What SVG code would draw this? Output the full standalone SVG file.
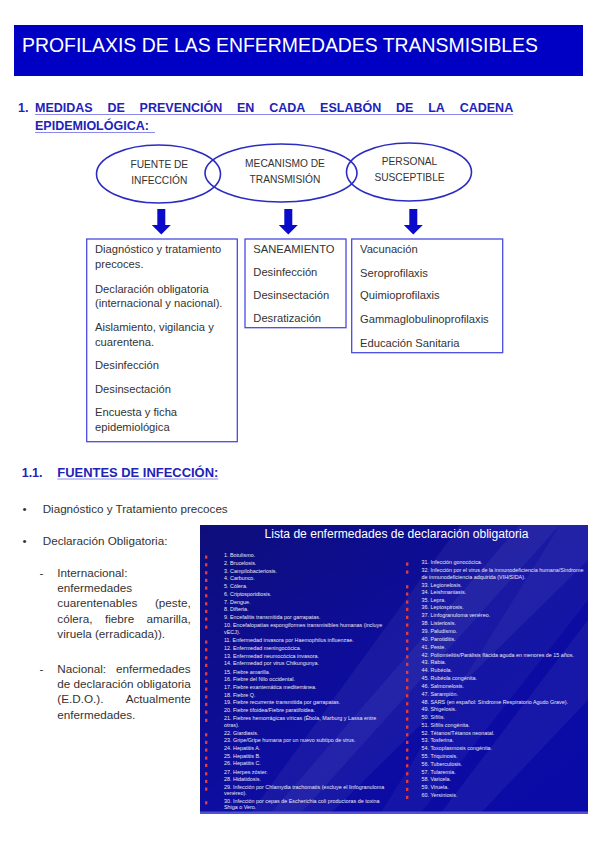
<svg xmlns="http://www.w3.org/2000/svg" width="599" height="848" viewBox="0 0 599 848">
<defs>
<style>
.hd{font-family:"Liberation Sans",Arial,sans-serif;font-weight:bold;font-size:12.5px;fill:#2222b8}
.ul{stroke:#8a8aec;stroke-width:1}
.el{fill:none;stroke:#2b2bc2;stroke-width:1.6}
.et{font-family:"Liberation Sans",Arial,sans-serif;font-size:10.2px;fill:#333;text-anchor:middle}
.bx{fill:#fff;stroke:#4a4ae0;stroke-width:1.3}
.bt{font-family:"Liberation Sans",Arial,sans-serif;font-size:11.2px;fill:#333}
.ar{fill:#0a0acc}
.tx{font-family:"Liberation Sans",Arial,sans-serif;font-size:11.7px;fill:#333}
.sl{font-family:"Liberation Sans",Arial,sans-serif;font-size:5.4px;fill:#e6e6f2}
.rb{fill:#e33a3a}
</style>
<linearGradient id="slg" x1="0" y1="0" x2="1" y2="1">
<stop offset="0" stop-color="#0e0e7a"/>
<stop offset="0.5" stop-color="#0d0da0"/>
<stop offset="1" stop-color="#0a0aa8"/>
</linearGradient>
</defs>
<rect width="599" height="848" fill="#fff"/>

<g id="title">
<rect x="14" y="25" width="569" height="51" fill="#0000c4"/>
<text x="22" y="52" font-family="'Liberation Sans',Arial,sans-serif" font-size="19.5" fill="#fff" textLength="516" lengthAdjust="spacingAndGlyphs">PROFILAXIS DE LAS ENFERMEDADES TRANSMISIBLES</text>
</g>

<g id="heading1">
<text class="hd" x="18" y="112">1.</text>
<text class="hd" y="112"><tspan x="35">MEDIDAS</tspan><tspan x="107.4">DE</tspan><tspan x="139.6">PREVENCIÓN</tspan><tspan x="237">EN</tspan><tspan x="269.2">CADA</tspan><tspan x="320.1">ESLABÓN</tspan><tspan x="396">DE</tspan><tspan x="428.2">LA</tspan><tspan x="459.7">CADENA</tspan></text>
<text class="hd" x="35" y="130">EPIDEMIOLÓGICA:</text>
<line class="ul" x1="35" y1="114.5" x2="513" y2="114.5"/>
<line class="ul" x1="35" y1="132.5" x2="155" y2="132.5"/>
</g>

<g id="fuente">
<ellipse class="el" cx="158.5" cy="174" rx="62" ry="29"/>
<text class="et" x="159.3" y="167.5">FUENTE DE</text>
<text class="et" x="159.3" y="183.5">INFECCIÓN</text>
</g>
<g id="mecanismo">
<ellipse class="el" cx="281" cy="173" rx="76" ry="29"/>
<text class="et" x="285" y="166.5">MECANISMO DE</text>
<text class="et" x="285" y="182.5">TRANSMISIÓN</text>
</g>
<g id="personal">
<ellipse class="el" cx="409" cy="172" rx="62.5" ry="29"/>
<text class="et" x="409.5" y="165" fill="#222">PERSONAL</text>
<text class="et" x="409.5" y="181" fill="#222">SUSCEPTIBLE</text>
</g>

<g id="connectors">
<path class="ar" d="M157.3,209 H165.3 V225 H170.8 L161.3,234.5 L151.8,225 H157.3 Z"/>
<path class="ar" d="M284.3,209 H292.3 V225 H297.8 L288.3,234.5 L278.8,225 H284.3 Z"/>
<path class="ar" d="M409.3,209 H417.3 V225 H422.8 L413.3,234.5 L403.8,225 H409.3 Z"/>
</g>

<g id="box1">
<rect class="bx" x="86.7" y="239" width="150.6" height="202.7"/>
<text class="bt" x="95" y="253.3">Diagnóstico y tratamiento</text>
<text class="bt" x="95" y="268.3">precoces.</text>
<text class="bt" x="95" y="292.7">Declaración obligatoria</text>
<text class="bt" x="95" y="307.3">(internacional y nacional).</text>
<text class="bt" x="95" y="331">Aislamiento, vigilancia y</text>
<text class="bt" x="95" y="346">cuarentena.</text>
<text class="bt" x="95" y="369.3">Desinfección</text>
<text class="bt" x="95" y="392.7">Desinsectación</text>
<text class="bt" x="95" y="415.7">Encuesta y ficha</text>
<text class="bt" x="95" y="431">epidemiológica</text>
</g>

<g id="box2">
<rect class="bx" x="245" y="239" width="101" height="88.7"/>
<text class="bt" x="253.3" y="253.3">SANEAMIENTO</text>
<text class="bt" x="253.3" y="276">Desinfección</text>
<text class="bt" x="253.3" y="299.3">Desinsectación</text>
<text class="bt" x="253.3" y="322.3">Desratización</text>
</g>

<g id="box3">
<rect class="bx" x="351.7" y="239" width="151" height="113.7"/>
<text class="bt" x="360" y="253.3">Vacunación</text>
<text class="bt" x="360" y="276.7">Seroprofilaxis</text>
<text class="bt" x="360" y="299.3">Quimioprofilaxis</text>
<text class="bt" x="360" y="323.3">Gammaglobulinoprofilaxis</text>
<text class="bt" x="360" y="346.7">Educación Sanitaria</text>
</g>

<g id="heading11">
<text class="hd" x="21.7" y="476.7">1.1.</text>
<text class="hd" x="57.3" y="476.7" textLength="161" lengthAdjust="spacingAndGlyphs">FUENTES DE INFECCIÓN:</text>
<line class="ul" x1="57.3" y1="479" x2="218.3" y2="479"/>
</g>

<g id="bullets">
<text class="tx" x="22.5" y="512.7">•</text>
<text class="tx" x="42.7" y="512.7" textLength="185" lengthAdjust="spacingAndGlyphs">Diagnóstico y Tratamiento precoces</text>
<text class="tx" x="22.5" y="545">•</text>
<text class="tx" x="42.7" y="545">Declaración Obligatoria:</text>
<text class="tx" x="39.5" y="576.7">-</text>
<text class="tx" x="57.3" y="576.7">Internacional:</text>
<text class="tx" x="57.3" y="592.3">enfermedades</text>
<text class="tx" x="57.3" y="607.3">cuarentenables</text>
<text class="tx" x="190.7" y="607.3" text-anchor="end">(peste,</text>
<text class="tx" x="57.3" y="622.7">cólera,</text>
<text class="tx" x="105" y="622.7">fiebre</text>
<text class="tx" x="190.7" y="622.7" text-anchor="end">amarilla,</text>
<text class="tx" x="57.3" y="637.7">viruela (erradicada)).</text>
<text class="tx" x="39.5" y="672.7">-</text>
<text class="tx" x="57.3" y="672.7">Nacional:</text>
<text class="tx" x="190.7" y="672.7" text-anchor="end">enfermedades</text>
<text class="tx" x="57.3" y="688.3" textLength="133.4" lengthAdjust="spacingAndGlyphs">de declaración obligatoria</text>
<text class="tx" x="57.3" y="703.3">(E.D.O.).</text>
<text class="tx" x="190.7" y="703.3" text-anchor="end">Actualmente</text>
<text class="tx" x="57.3" y="718.7">enfermedades.</text>
</g>

<g id="slide">
<rect x="200" y="525" width="388" height="289" fill="url(#slg)"/>
<polygon points="460,525 588,525 588,560 330,814 250,814" fill="#ffffff" opacity="0.05"/>
<polygon points="520,525 560,525 300,814 270,814" fill="#ffffff" opacity="0.05"/>
<polygon points="560,525 588,525 588,600 420,814 380,814" fill="#ffffff" opacity="0.04"/>
<polygon points="588,620 588,700 480,814 440,814" fill="#ffffff" opacity="0.05"/>
<rect x="200" y="811.5" width="388" height="2.5" fill="#5050d8"/>
<text x="396.5" y="537.5" font-family="'Liberation Sans',Arial,sans-serif" font-size="12.5" fill="#fff" text-anchor="middle" textLength="264" lengthAdjust="spacingAndGlyphs">Lista de enfermedades de declaración obligatoria</text>
<g class="rb">
<rect x="205" y="555.5" width="2.4" height="3.2"/><rect x="205" y="563.2" width="2.4" height="3.2"/><rect x="205" y="571.2" width="2.4" height="3.2"/><rect x="205" y="578.8" width="2.4" height="3.2"/><rect x="205" y="586.5" width="2.4" height="3.2"/><rect x="205" y="594.2" width="2.4" height="3.2"/><rect x="205" y="602.2" width="2.4" height="3.2"/><rect x="205" y="609.8" width="2.4" height="3.2"/><rect x="205" y="617.5" width="2.4" height="3.2"/><rect x="205" y="625.5" width="2.4" height="3.2"/>
<rect x="205" y="640.5" width="2.4" height="3.2"/><rect x="205" y="648.2" width="2.4" height="3.2"/><rect x="205" y="656.2" width="2.4" height="3.2"/><rect x="205" y="663.8" width="2.4" height="3.2"/><rect x="205" y="672.2" width="2.4" height="3.2"/><rect x="205" y="679.8" width="2.4" height="3.2"/><rect x="205" y="687.5" width="2.4" height="3.2"/><rect x="205" y="695.2" width="2.4" height="3.2"/><rect x="205" y="702.8" width="2.4" height="3.2"/><rect x="205" y="710.5" width="2.4" height="3.2"/>
<rect x="205" y="718.8" width="2.4" height="3.2"/><rect x="205" y="733.2" width="2.4" height="3.2"/><rect x="205" y="740.8" width="2.4" height="3.2"/><rect x="205" y="748.5" width="2.4" height="3.2"/><rect x="205" y="756.5" width="2.4" height="3.2"/><rect x="205" y="763.8" width="2.4" height="3.2"/><rect x="205" y="772.2" width="2.4" height="3.2"/><rect x="205" y="779.8" width="2.4" height="3.2"/><rect x="205" y="787.5" width="2.4" height="3.2"/><rect x="205" y="801.2" width="2.4" height="3.2"/>
<rect x="406" y="562.5" width="2.4" height="3.2"/><rect x="406" y="570.5" width="2.4" height="3.2"/><rect x="406" y="585.2" width="2.4" height="3.2"/><rect x="406" y="592.5" width="2.4" height="3.2"/><rect x="406" y="600.5" width="2.4" height="3.2"/><rect x="406" y="607.8" width="2.4" height="3.2"/><rect x="406" y="615.8" width="2.4" height="3.2"/><rect x="406" y="623.5" width="2.4" height="3.2"/><rect x="406" y="631.8" width="2.4" height="3.2"/><rect x="406" y="639.5" width="2.4" height="3.2"/>
<rect x="406" y="647.2" width="2.4" height="3.2"/><rect x="406" y="655.2" width="2.4" height="3.2"/><rect x="406" y="662.8" width="2.4" height="3.2"/><rect x="406" y="670.8" width="2.4" height="3.2"/><rect x="406" y="678.5" width="2.4" height="3.2"/><rect x="406" y="686.2" width="2.4" height="3.2"/><rect x="406" y="694.2" width="2.4" height="3.2"/><rect x="406" y="702.2" width="2.4" height="3.2"/><rect x="406" y="709.8" width="2.4" height="3.2"/><rect x="406" y="717.5" width="2.4" height="3.2"/>
<rect x="406" y="725.5" width="2.4" height="3.2"/><rect x="406" y="733.2" width="2.4" height="3.2"/><rect x="406" y="740.8" width="2.4" height="3.2"/><rect x="406" y="748.5" width="2.4" height="3.2"/><rect x="406" y="756.5" width="2.4" height="3.2"/><rect x="406" y="764.2" width="2.4" height="3.2"/><rect x="406" y="772.2" width="2.4" height="3.2"/><rect x="406" y="779.8" width="2.4" height="3.2"/><rect x="406" y="787.8" width="2.4" height="3.2"/><rect x="406" y="795.8" width="2.4" height="3.2"/>
</g>
<g class="sl">
<text x="224" y="557">1. Botulismo.</text>
<text x="224" y="564.7">2. Brucelosis.</text>
<text x="224" y="572.7">3. Campilobacteriosis.</text>
<text x="224" y="580.3">4. Carbunco.</text>
<text x="224" y="588">5. Cólera.</text>
<text x="224" y="595.7">6. Criptosporidiosis.</text>
<text x="224" y="603.7">7. Dengue.</text>
<text x="224" y="611.3">8. Difteria.</text>
<text x="224" y="619">9. Encefalitis transmitida por garrapatas.</text>
<text x="224" y="627">10. Encefalopatías espongiformes transmisibles humanas (incluye</text>
<text x="224" y="633.5">vECJ).</text>
<text x="224" y="642">11. Enfermedad invasora por Haemophilus influenzae.</text>
<text x="224" y="649.7">12. Enfermedad meningocócica.</text>
<text x="224" y="657.7">13. Enfermedad neumocócica invasora.</text>
<text x="224" y="665.3">14. Enfermedad por virus Chikungunya.</text>
<text x="224" y="673.7">15. Fiebre amarilla.</text>
<text x="224" y="681.3">16. Fiebre del Nilo occidental.</text>
<text x="224" y="689">17. Fiebre exantemática mediterránea.</text>
<text x="224" y="696.7">18. Fiebre Q.</text>
<text x="224" y="704.3">19. Fiebre recurrente transmitida por garrapatas.</text>
<text x="224" y="712">20. Fiebre tifoidea/Fiebre paratifoidea.</text>
<text x="224" y="720.3">21. Fiebres hemorrágicas víricas (Ébola, Marburg y Lassa entre</text>
<text x="224" y="726.7">otras).</text>
<text x="224" y="734.7">22. Giardiasis.</text>
<text x="224" y="742.3">23. Gripe/Gripe humana por un nuevo subtipo de virus.</text>
<text x="224" y="750">24. Hepatitis A.</text>
<text x="224" y="758">25. Hepatitis B.</text>
<text x="224" y="765.3">26. Hepatitis C.</text>
<text x="224" y="773.7">27. Herpes zóster.</text>
<text x="224" y="781.3">28. Hidatidosis.</text>
<text x="224" y="789">29. Infección por Chlamydia trachomatis (excluye el linfogranuloma</text>
<text x="224" y="795">venéreo).</text>
<text x="224" y="802.7">30. Infección por cepas de Escherichia coli productoras de toxina</text>
<text x="224" y="809.3">Shiga o Vero.</text>
<text x="421.5" y="564">31. Infección gonocócica.</text>
<text x="421.5" y="572">32. Infección por el virus de la inmunodeficiencia humana/Síndrome</text>
<text x="421.5" y="578.7">de inmunodeficiencia adquirida (VIH/SIDA).</text>
<text x="421.5" y="586.7">33. Legionelosis.</text>
<text x="421.5" y="594">34. Leishmaniasis.</text>
<text x="421.5" y="602">35. Lepra.</text>
<text x="421.5" y="609.3">36. Leptospirosis.</text>
<text x="421.5" y="617.3">37. Linfogranuloma venéreo.</text>
<text x="421.5" y="625">38. Listeriosis.</text>
<text x="421.5" y="633.3">39. Paludismo.</text>
<text x="421.5" y="641">40. Parotiditis.</text>
<text x="421.5" y="648.7">41. Peste.</text>
<text x="421.5" y="656.7">42. Poliomielitis/Parálisis flácida aguda en menores de 15 años.</text>
<text x="421.5" y="664.3">43. Rabia.</text>
<text x="421.5" y="672.3">44. Rubéola.</text>
<text x="421.5" y="680">45. Rubéola congénita.</text>
<text x="421.5" y="687.7">46. Salmonelosis.</text>
<text x="421.5" y="695.7">47. Sarampión.</text>
<text x="421.5" y="703.7">48. SARS (en español: Síndrome Respiratorio Agudo Grave).</text>
<text x="421.5" y="711.3">49. Shigelosis.</text>
<text x="421.5" y="719">50. Sífilis.</text>
<text x="421.5" y="727">51. Sífilis congénita.</text>
<text x="421.5" y="734.7">52. Tétanos/Tétanos neonatal.</text>
<text x="421.5" y="742.3">53. Tosferina.</text>
<text x="421.5" y="750">54. Toxoplasmosis congénita.</text>
<text x="421.5" y="758">55. Triquinosis.</text>
<text x="421.5" y="765.7">56. Tuberculosis.</text>
<text x="421.5" y="773.7">57. Tularemia.</text>
<text x="421.5" y="781.3">58. Varicela.</text>
<text x="421.5" y="789.3">59. Viruela.</text>
<text x="421.5" y="797.3">60. Yersiniosis.</text>
</g>
</g>
</svg>
